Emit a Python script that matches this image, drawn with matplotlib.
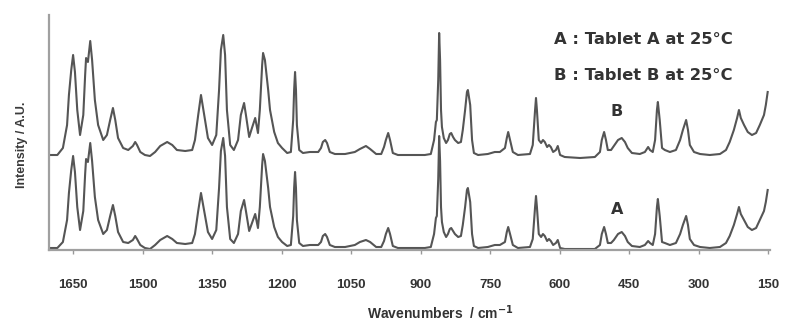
import matplotlib
matplotlib.use("Agg")
import matplotlib.pyplot as plt

plt.rcParams['font.family'] = ['Liberation Sans', 'DejaVu Sans']

wavenumber = [1702, 1684, 1672, 1663, 1659, 1654, 1650, 1646, 1641, 1635, 1628, 1624, 1622, 1618, 1613,
              1609, 1603, 1596, 1585, 1577, 1570, 1564, 1559, 1553, 1542, 1531, 1521, 1516, 1512, 1505,
              1495, 1484, 1473, 1462, 1447, 1436, 1426, 1408, 1393, 1387, 1380, 1374, 1367, 1359, 1350,
              1341, 1335, 1331, 1326, 1322, 1318, 1311, 1303, 1294, 1288, 1281, 1277, 1270, 1264, 1257,
              1253, 1251, 1247, 1242, 1240, 1236, 1229, 1225, 1216, 1208, 1199, 1188, 1180, 1175, 1173,
              1171, 1169, 1167, 1162, 1154, 1139, 1121, 1115, 1111, 1106, 1102, 1096, 1085, 1063, 1042,
              1031, 1018, 1009, 996, 985, 979, 975, 970, 966, 960, 949, 923, 891, 878, 871,
              867, 865, 862, 860, 858, 856, 854, 850, 845, 841, 837, 834, 830, 826, 819,
              813, 809, 804, 800, 798, 793, 789, 785, 776, 755, 740, 729, 718, 714, 711,
              707, 701, 690, 664, 658, 653, 651, 649, 645, 640, 636, 632, 627, 623, 619,
              614, 608, 604, 599, 589, 556, 524, 513, 509, 504, 500, 496, 489, 483, 474,
              466, 459, 453, 444, 427, 416, 409, 405, 399, 394, 390, 388, 384, 379, 373,
              362, 349, 340, 334, 327, 323, 319, 310, 297, 276, 254, 241, 233, 224, 217,
              213, 209, 202, 194, 185, 176, 168, 159, 155, 151]

intensity_B = [95, 95, 102, 125, 155, 180, 195, 178, 140, 115, 135, 175, 192, 188, 209,
               190, 150, 125, 110, 115, 130, 142, 130, 112, 102, 100, 104, 108, 105, 98,
               95, 94, 98, 104, 108, 105, 100, 99, 100, 110, 135, 155, 135, 112, 105,
               115, 160, 200, 215, 195, 140, 105, 100, 110, 135, 147, 135, 113, 122, 132,
               122, 117, 140, 185, 197, 190, 160, 140, 118, 107, 102, 97, 98, 130, 160,
               178, 160, 125, 100, 97, 98, 98, 102, 108, 110, 107, 98, 96, 96, 98,
               101, 104, 101, 96, 96, 103, 110, 117, 110, 97, 95, 95, 95, 96, 110,
               128, 130, 170, 217, 190, 140, 123, 112, 107, 110, 116, 117, 113, 110, 107,
               108, 120, 140, 158, 160, 145, 110, 97, 95, 96, 98, 98, 102, 112, 118,
               110, 98, 95, 96, 105, 140, 152, 140, 110, 107, 110, 108, 103, 105, 103,
               98, 100, 104, 95, 93, 92, 93, 98, 110, 118, 110, 100, 100, 104, 110,
               112, 108, 102, 97, 96, 98, 103, 100, 98, 110, 140, 148, 130, 102, 100,
               98, 100, 110, 120, 130, 120, 105, 98, 96, 95, 96, 100, 108, 120, 132,
               140, 132, 125, 118, 115, 117, 125, 135, 145, 158]

intensity_A = [2, 2, 8, 30, 57, 80, 94, 78, 43, 20, 39, 76, 91, 88, 107,
               89, 53, 30, 16, 20, 34, 45, 34, 18, 8, 7, 10, 14, 11, 5,
               2, 1, 5, 10, 14, 11, 7, 6, 7, 16, 39, 57, 39, 18, 11,
               20, 62, 99, 112, 94, 43, 11, 7, 16, 39, 50, 39, 19, 27, 36,
               27, 22, 43, 85, 96, 89, 62, 43, 23, 13, 8, 4, 5, 34, 62,
               78, 62, 30, 7, 4, 5, 5, 8, 14, 16, 13, 5, 3, 3, 5,
               8, 10, 8, 3, 3, 9, 16, 22, 16, 4, 2, 2, 2, 3, 16,
               32, 34, 71, 114, 89, 43, 28, 18, 13, 16, 21, 22, 19, 16, 13,
               14, 25, 43, 60, 62, 48, 16, 4, 2, 3, 5, 5, 8, 18, 23,
               16, 5, 2, 3, 11, 43, 54, 43, 16, 13, 16, 14, 9, 11, 9,
               5, 7, 10, 2, 1, 1, 1, 5, 16, 23, 16, 7, 7, 10, 16,
               18, 14, 8, 4, 3, 5, 9, 7, 5, 16, 43, 51, 34, 8, 7,
               5, 7, 16, 25, 34, 25, 11, 5, 3, 2, 3, 7, 14, 25, 36,
               43, 36, 30, 23, 20, 22, 30, 39, 48, 60]

x_ticks = [1650, 1500, 1350, 1200, 1050, 900, 750, 600, 450, 300, 150]

legend_lines = ["A : Tablet A at 25°C", "B : Tablet B at 25°C"]
trace_labels = ["A", "B"]

fig = plt.figure(figsize=(7.87, 3.24), dpi=100)
ax = fig.add_axes([49/787, 74/324, 721/787, 235/324])

line_color = '#555555'
ax.plot(wavenumber, intensity_B, color=line_color, lw=1.5, solid_joinstyle='round')
ax.plot(wavenumber, intensity_A, color=line_color, lw=1.5, solid_joinstyle='round')

ax.set_xlim(1702, 146)
ax.set_ylim(0, 235)
ax.set_xticks(x_ticks)
ax.set_xticklabels([str(t) for t in x_ticks], fontsize=9.5, fontweight='bold', color='#333333')
ax.set_yticks([])
ax.tick_params(axis='x', direction='out', length=3, width=1, color='#999999', pad=18)

for s in ['top', 'right']:
    ax.spines[s].set_visible(False)
for s in ['left', 'bottom']:
    ax.spines[s].set_color('#a0a0a0')
    ax.spines[s].set_linewidth(1.6)

fig.text(440/787, 1 - 313/324, "Wavenumbers  / cm$^{\\mathbf{-1}}$", ha='center', va='center',
         fontsize=10, fontweight='bold', color='#333333')
fig.text(22/787, 1 - 145/324, "Intensity / A.U.", ha='center', va='center', rotation=90,
         fontsize=9, fontweight='bold', color='#3a3a3a')

legend_font = ['DejaVu Sans']
fig.text(643/787, 1 - 40/324, legend_lines[0], ha='center', va='center', family=legend_font,
         fontsize=11.8, fontweight='bold', color='#333333')
fig.text(643/787, 1 - 75/324, legend_lines[1], ha='center', va='center', family=legend_font,
         fontsize=11.8, fontweight='bold', color='#333333')
fig.text(617/787, 1 - 209/324, trace_labels[0], ha='center', va='center', family=legend_font,
         fontsize=11.5, fontweight='bold', color='#333333')
fig.text(617/787, 1 - 112/324, trace_labels[1], ha='center', va='center', family=legend_font,
         fontsize=11.5, fontweight='bold', color='#333333')

fig.savefig("out.png", dpi=100, facecolor='white')
